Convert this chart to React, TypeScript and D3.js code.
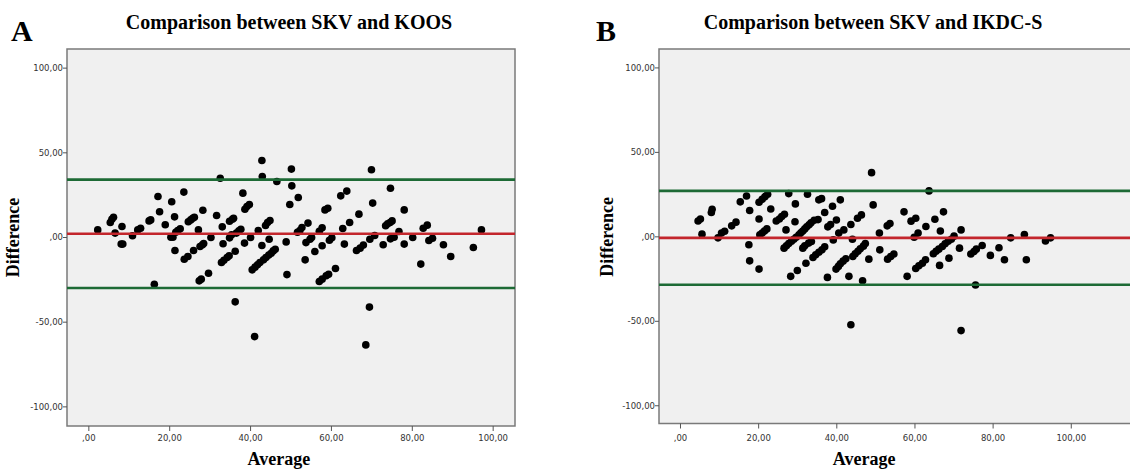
import * as d3 from 'd3';

// Bland-Altman data
const koosAverage = [
  2.2, 5.3, 5.7, 6.1, 6.5, 8.2, 8.0, 8.4, 10.8, 12.1, 12.8, 14.9, 15.3, 17.1, 17.5, 16.2, 18.9, 20.5, 20.3, 20.8,
  21.2, 21.3, 21.5, 22.0, 22.6, 23.5, 23.6, 24.5, 24.6, 25.2, 25.7, 26.1, 25.9, 27.1, 27.3, 27.8, 27.5, 28.1, 28.4, 28.2,
  29.6, 30.2, 31.6, 32.5, 33.0, 33.2, 32.8, 33.4, 34.2, 34.7, 34.8, 35.3, 34.8, 35.5, 35.8, 36.2, 36.2, 36.5, 37.1, 37.6,
  38.1, 38.5, 38.6, 39.1, 39.7, 40.0, 40.4, 41.0, 41.1, 41.7, 41.9, 42.3, 42.8, 42.9, 42.8, 43.2, 43.7, 43.8, 44.2, 44.5,
  44.6, 44.8, 45.1, 45.6, 46.1, 46.5, 48.8, 49.0, 49.7, 50.1, 50.2, 51.8, 51.6, 52.2, 52.7, 53.5, 53.7, 54.2, 54.7, 55.1,
  55.9, 57.0, 57.7, 57.0, 57.7, 57.7, 58.4, 59.1, 58.7, 59.3, 59.5, 60.1, 61.0, 62.3, 63.8, 62.8, 63.2, 64.5, 66.2, 66.8,
  67.1, 67.9, 68.5, 69.4, 69.9, 70.2, 69.5, 70.7, 72.8, 73.4, 73.9, 74.5, 75.0, 74.6, 74.6, 75.5, 76.7, 78.0, 78.0, 80.1,
  82.1, 82.7, 83.7, 84.1, 85.0, 87.7, 89.5, 95.1, 97.1,
];
const koosDifference = [
  4.5, 8.9, 10.8, 12.0, 2.6, 6.5, -3.9, -3.9, 1.0, 4.5, 5.5, 9.8, 10.4, 24.2, 15.2, -27.6, 7.5, 21.1, 0.2, 0.2,
  12.2, -7.7, 3.1, 4.1, 5.1, 26.8, -12.8, -11.2, 9.3, 10.4, 11.4, 12.0, -7.7, 4.5, -25.6, -24.6, -5.3, -4.3, -3.5, 16.1,
  -21.1, 0, 13.0, 35.0, 6.3, -3.7, -14.8, -13.4, -11.8, -10.8, -0.2, 1.6, 9.6, 10.8, 11.4, -38.0, -8.1, 2.6, 3.9, 4.9,
  26.2, -3.3, 16.7, 18.3, 19.5, 0, -19.1, -58.5, -17.5, -16.1, 4.1, -14.8, 45.5, 36.0, -4.7, -13.2, 7.1, -11.8, 8.9, -10.4,
  -1.0, 10.0, -9.3, -7.9, -6.9, 33.1, -2.6, -21.9, 19.5, 40.4, 30.5, 23.6, 3.1, 4.1, 5.9, -13.2, -3.0, 8.5, -1.0, 0,
  -8.3, -26.0, -24.6, 3.7, 5.7, -4.9, 16.3, 17.3, -22.6, -21.7, -1.6, -0.2, -18.3, 24.6, 27.4, 5.3, -3.9, 8.9, -7.7, 13.8,
  -6.3, -4.5, -63.4, -41.1, 40.0, 20.3, -1.0, 1.2, -4.3, 6.9, 8.1, 8.9, 9.8, 29.1, -0.8, 0.2, 3.5, 16.3, -3.9, 0,
  -15.7, 5.5, 7.3, -1.8, -0.4, -4.3, -11.2, -5.9, 4.5,
];
const koosLines = [2.2, 34.2, -29.8]; // mean, upper and lower limits

const ikdcAverage = [
  4.5, 5.1, 5.5, 7.9, 8.1, 9.6, 10.5, 11.3, 13.1, 14.2, 15.3, 16.9, 17.7, 17.5, 17.7, 20.1, 20.9, 21.6, 22.3, 20.1,
  20.1, 20.3, 20.9, 21.5, 22.1, 23.1, 24.5, 25.3, 25.9, 26.6, 27.0, 26.5, 27.1, 27.7, 27.7, 28.2, 28.4, 29.0, 29.4, 29.3,
  29.6, 29.9, 30.3, 30.8, 31.3, 31.3, 31.8, 31.8, 32.1, 32.3, 32.5, 32.8, 32.9, 33.4, 33.5, 33.9, 34.2, 34.6, 35.2, 35.4,
  36.1, 35.4, 36.2, 36.9, 36.9, 37.6, 37.7, 38.4, 38.9, 39.1, 39.9, 39.8, 40.4, 40.9, 40.9, 40.5, 41.6, 41.8, 42.3, 43.1,
  43.6, 43.6, 44.0, 44.1, 44.7, 45.3, 45.4, 46.0, 46.3, 46.6, 46.8, 47.3, 48.2, 48.9, 49.3, 50.9, 51.0, 52.9, 53.6, 53.0,
  53.8, 54.6, 57.2, 58.0, 59.0, 60.2, 59.8, 60.8, 60.2, 61.0, 61.9, 62.7, 62.8, 63.6, 64.7, 65.1, 65.4, 66.1, 66.5, 66.3,
  67.0, 67.3, 67.7, 68.5, 68.7, 69.3, 70.0, 71.4, 71.8, 71.8, 74.3, 75.1, 75.7, 77.2, 75.5, 79.3, 81.5, 82.9, 84.5, 88.0,
  88.5, 93.4, 94.7,
];
const ikdcDifference = [
  9.4, 10.6, 1.6, 14.4, 16.3, -0.6, 2.2, 3.3, 6.5, 8.7, 20.7, 24.2, 15.6, -4.7, -14.2, 20.5, 22.2, 23.8, 25.2, 10.6,
  -19.1, 1.2, 2.2, 3.5, 4.7, 16.5, 9.4, 10.6, 12.0, 13.4, 4.1, -6.7, -5.3, -3.9, 25.6, -23.4, -2.6, -1.4, 19.5, 8.9,
  -0.2, -19.9, 1.2, 2.4, 3.5, -6.7, 4.7, -5.3, -15.6, 5.9, 25.2, -3.7, 7.1, 8.3, -2.8, -12.2, 9.8, -10.6, 10.2, 21.9,
  22.6, -9.1, -7.7, 14.4, -5.9, -24.0, 5.9, 7.3, 18.1, -1.8, 10.0, -19.1, -17.5, 21.9, -15.9, 2.2, -14.4, 4.1, -13.0, -23.4,
  -52.0, 7.3, -1.4, -11.6, -10.0, 11.0, -8.5, -7.1, 13.0, -26.0, -5.5, -3.9, -13.2, 38.0, 18.9, 2.2, -7.7, 6.5, 7.9, -13.2,
  -11.6, -10.2, 14.8, -23.4, 9.3, 11.0, -0.2, 2.2, -18.7, -17.1, -15.6, -13.6, 6.1, 27.2, -10.0, 10.4, -8.5, -7.3, 3.5, -16.9,
  -5.7, 14.8, -4.1, -2.6, -12.6, -1.4, 0.4, -6.7, 4.1, -55.5, -10.2, -8.7, -7.3, -5.1, -28.5, -11.0, -6.5, -13.6, -0.6, 1.4,
  -13.6, -2.4, -0.6,
];
const ikdcLines = [-0.6, 27.2, -28.4];

const xTicks = [0, 20, 40, 60, 80, 100];
const yTicks = [-100, -50, 0, 50, 100];

const locale = d3.formatLocale({ decimal: ',', thousands: '.', grouping: [3], currency: ['', ''], minus: '-' });
const fmt2 = locale.format('.2f');
const tickFmt = (v: number) => fmt2(v).replace(/^0,/, ',');

const serif = '"Liberation Serif", "Times New Roman", serif';
const tickFont = '"DejaVu Sans", Verdana, sans-serif';
const lineColors = ['#c3262c', '#1d6a35', '#1d6a35'];

type PanelProps = {
  letter: string;
  title: string;
  letterX: number;
  titleX: number;
  left: number;
  right: number;
  top: number;
  bottom: number;
  xDomain: [number, number];
  yDomain: [number, number];
  avg: number[];
  diff: number[];
  lines: number[];
  yLabelX: number;
};

function Panel(p: PanelProps) {
  const x = d3.scaleLinear().domain(p.xDomain).range([p.left, p.right]);
  const y = d3.scaleLinear().domain(p.yDomain).range([p.bottom, p.top]);
  const midX = x(47);
  const midY = y(0);

  return (
    <g>
      <text x={p.letterX} y={41} fontFamily={serif} fontWeight="bold" fontSize={30}>{p.letter}</text>
      <text x={p.titleX} y={29} textAnchor="middle" fontFamily={serif} fontWeight="bold" fontSize={20}>{p.title}</text>

      <rect x={p.left} y={p.top} width={p.right - p.left} height={p.bottom - p.top} fill="#f0f0f0" stroke="#7a7a7a" strokeWidth={1.5} />

      {p.avg.map((a, i) => (
        <circle key={i} cx={x(a)} cy={y(p.diff[i])} r={3.8} fill="#000" />
      ))}

      {p.lines.map((v, i) => (
        <line key={i} x1={p.left} x2={p.right} y1={y(v)} y2={y(v)} stroke={lineColors[i]} strokeWidth={2.6} />
      ))}

      {yTicks.map(t => (
        <g key={t}>
          <line x1={p.left - 4} x2={p.left} y1={y(t)} y2={y(t)} stroke="#555" />
          <text x={p.left - 4} y={y(t)} dy="0.35em" textAnchor="end" fontFamily={tickFont} fontSize={8.5} fill="#333">{tickFmt(t)}</text>
        </g>
      ))}
      {xTicks.map(t => (
        <g key={t}>
          <line x1={x(t)} x2={x(t)} y1={p.bottom} y2={p.bottom + 5} stroke="#555" />
          <text x={x(t)} y={441} textAnchor="middle" fontFamily={tickFont} fontSize={8.5} fill="#333">{tickFmt(t)}</text>
        </g>
      ))}

      <text x={midX} y={465} textAnchor="middle" fontFamily={serif} fontWeight="bold" fontSize={18}>Average</text>
      <text transform={`translate(${p.yLabelX},${midY}) rotate(-90)`} textAnchor="middle" dy="0.35em" fontFamily={serif} fontWeight="bold" fontSize={18}>Difference</text>
    </g>
  );
}

export default function App() {
  return (
    <svg width={1130} height={471} style={{ position: 'absolute', left: 0, top: 0, background: '#fff', overflow: 'hidden' }}>
      <Panel letter="A" title="Comparison between SKV and KOOS" letterX={11} titleX={289}
        left={67} right={515} top={49} bottom={426} xDomain={[-5.4, 105.4]} yDomain={[-111.3, 111.3]}
        avg={koosAverage} diff={koosDifference} lines={koosLines} yLabelX={13} />
      <Panel letter="B" title="Comparison between SKV and IKDC-S" letterX={596} titleX={873}
        left={659} right={1142} top={49} bottom={423.5} xDomain={[-5.5, 118.1]} yDomain={[-110.5, 111.2]}
        avg={ikdcAverage} diff={ikdcDifference} lines={ikdcLines} yLabelX={607} />
    </svg>
  );
}
